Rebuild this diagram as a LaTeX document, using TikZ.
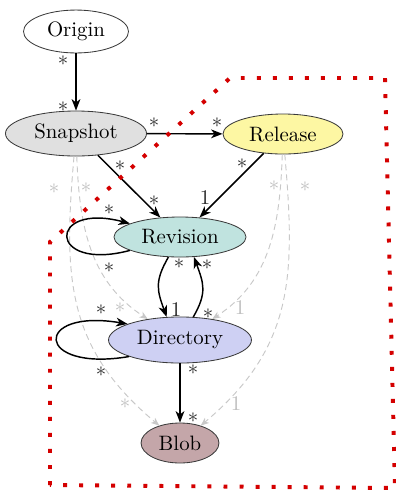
\documentclass[tikz,border=0pt]{standalone}
\usetikzlibrary{arrows.meta,shapes.geometric}
\definecolor{linegray}{RGB}{58,58,58}
\definecolor{snapfill}{RGB}{224,224,224}
\definecolor{relfill}{RGB}{253,247,163}
\definecolor{revfill}{RGB}{192,227,223}
\definecolor{dirfill}{RGB}{206,208,243}
\definecolor{blobfill}{RGB}{196,166,169}
\definecolor{faint}{RGB}{200,200,200}
\definecolor{faintlbl}{RGB}{190,190,190}
\definecolor{dotred}{RGB}{212,0,0}
\begin{document}
\begin{tikzpicture}[x=0.48pt,y=0.48pt,
  obj/.style={ellipse, draw=linegray, line width=0.4pt, inner sep=0pt},
  link/.style={draw=black, line width=0.7pt, -{Stealth[length=5.5pt,width=4.2pt,inset=1.6pt]}},
  weak/.style={draw=faint, line width=0.45pt, dash pattern=on 2.9pt off 1.9pt, -{Stealth[length=4pt,width=3.2pt,inset=1.2pt]}},
  star/.style={inner sep=0pt, text=black!85, yshift=-1.7pt},
  one/.style={inner sep=0pt, text=black!85},
  fstar/.style={inner sep=0pt, text=faintlbl, yshift=-1.7pt},
  fone/.style={inner sep=0pt, text=faintlbl},
  border/.style={draw=dotred, line width=1.9pt, dash pattern=on 1.9pt off 5.8pt}
]
\useasboundingbox (0,0) rectangle (396,-491);

% objects
\node[obj, fill=white,    minimum width=50.4pt, minimum height=20.6pt] (ori)  at (76,-31.5)  {Origin};
\node[obj, fill=snapfill, minimum width=67.7pt, minimum height=21.6pt] (snap) at (76,-133.5) {Snapshot};
\node[obj, fill=relfill,  minimum width=57.6pt, minimum height=19.2pt] (rel)  at (283,-134)  {Release};
\node[obj, fill=revfill,  minimum width=63.4pt, minimum height=19.2pt] (rev)  at (180,-237)  {Revision};
\node[obj, fill=dirfill,  minimum width=68.6pt, minimum height=22.1pt] (dir)  at (180,-340)  {Directory};
\node[obj, fill=blobfill, minimum width=37.4pt, minimum height=19.2pt] (blob) at (180,-443)  {Blob};

% weak (dashed) references
\draw[weak] (snap) to[out=-88,in=147] (dir);
\draw[weak] (snap) to[out=-95,in=140,looseness=1.1] (blob);
\draw[weak] (rel) to[out=-92,in=33] (dir);
\draw[weak] (rel) to[out=-85,in=40,looseness=1.1] (blob);

% strong references
\draw[link] (ori) -- (snap);
\draw[link] (snap) -- (rel);
\draw[link] (snap) -- (rev);
\draw[link] (rel) -- (rev);
\draw[link] (rev.240) to[out=-120,in=110,looseness=1.2] (dir.120);
\draw[link] (dir.60) to[out=60,in=-70,looseness=1.2] (rev.305);
\draw[link] (rev.195) .. controls +(-83,-22) and +(-83,22) .. (rev.165);
\draw[link] (dir.198) .. controls +(-95,-16) and +(-95,16) .. (dir.163);
\draw[link] (dir) -- (blob);

% multiplicities of strong references
\node[star] (m1)  at (63,-60)   {*};
\node[star] (m2)  at (63,-106)  {*};
\node[star] (m3)  at (154,-122) {*};
\node[star] (m4)  at (217,-122) {*};
\node[star] (m5)  at (120,-165) {*};
\node[star] (m6)  at (154,-200) {*};
\node[star] (m7)  at (242,-163) {*};
\node[one]  (m8)  at (205,-198) {1};
\node[star] (m9)  at (109,-267) {*};
\node[star] (m10) at (109,-209) {*};
\node[star] (m11) at (179,-263) {*};
\node[one]  (m12) at (176,-310) {1};
\node[star] (m13) at (208,-313) {*};
\node[star] (m14) at (207,-264) {*};
\node[star] (m15) at (101,-371) {*};
\node[star] (m16) at (101,-309) {*};
\node[star] (m17) at (193,-369) {*};
\node[star] (m18) at (193,-417) {*};

% multiplicities of weak references
\node[fstar] (w1) at (86,-187)  {*};
\node[fstar] (w2) at (120,-307) {*};
\node[fstar] (w3) at (54,-188)  {*};
\node[fstar] (w4) at (125,-403) {*};
\node[fstar] (w5) at (274,-185) {*};
\node[fone]  (w6) at (240,-308) {1};
\node[fstar] (w7) at (305,-186) {*};
\node[fone]  (w8) at (236,-404) {1};

% dotted boundary
\draw[border] (50,-485) -- (50,-242) -- (230,-78) -- (385,-78) -- (395,-488) -- cycle;
\end{tikzpicture}
\end{document}
